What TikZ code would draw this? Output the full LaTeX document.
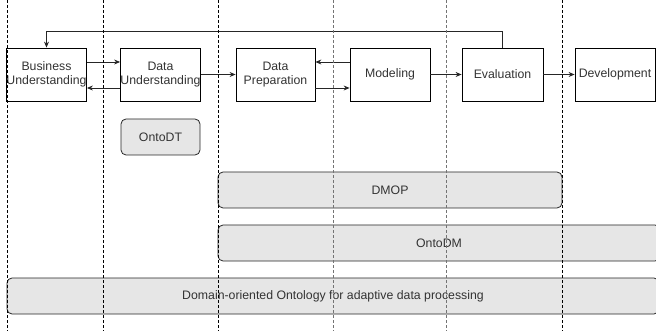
\documentclass[tikz,border=0pt]{standalone}
\usepackage{fontspec}
\setmainfont{Liberation Sans}
\usetikzlibrary{arrows.meta,calc}
\definecolor{txt}{HTML}{333333}
\definecolor{band}{HTML}{E6E6E6}
\begin{document}
\begin{tikzpicture}[x=1pt,y=-1pt,
  phase/.style={draw=black,fill=white,line width=0.8pt,align=center,
    text=txt,font=\fontsize{12.3}{14.5}\selectfont,inner sep=0pt},
  onto/.style={draw=black!85,fill=band,line width=0.8pt,rounded corners=5pt,
    text=txt,font=\fontsize{12.3}{14.5}\selectfont},
  arr/.style={draw=black!85,line width=0.8pt,-{Stealth[length=6pt,width=5pt]}},
  lane/.style={line width=0.8pt,dash pattern=on 3pt off 2pt},
]
\useasboundingbox (0,0) rectangle (656,331);
\begin{scope}
\clip (0,0) rectangle (656,331);

% CRISP-DM phases
\node[phase,minimum width=79pt,minimum height=53pt] (bu) at (46.5,74.5) {Business\\Understanding};
\node[phase,minimum width=79pt,minimum height=53pt] (du) at (160.5,74.5) {Data\\Understanding};
\node[phase,minimum width=79pt,minimum height=53pt] (dp) at (275.5,74.5) {Data\\Preparation};
\node[phase,minimum width=80pt,minimum height=53pt] (mo) at (390,74.5) {Modeling};
\node[phase,minimum width=81pt,minimum height=53pt] (ev) at (502.5,74.5) {Evaluation};
\node[phase,minimum width=80pt,minimum height=53pt] (de) at (615,74.5) {Development};

% ontologies
\node[onto,minimum width=79pt,minimum height=36pt] (dt) at (160.5,137) {OntoDT};
\node[onto,minimum width=344pt,minimum height=36pt] (dmop) at (390,190) {DMOP};
\node[onto,minimum width=442pt,minimum height=36pt] (dm) at (439,243) {OntoDM};
\node[onto,minimum width=652pt,minimum height=36pt] (dom) at (333,296) {Domain-oriented Ontology for adaptive data processing};

% phase transitions
\draw[arr] ([yshift=12.5pt]bu.east) -- ([yshift=12.5pt]du.west);
\draw[arr] ([yshift=-13.5pt]du.west) -- ([yshift=-13.5pt]bu.east);
\draw[arr] (du.east) -- (dp.west);
\draw[arr] ([yshift=12.5pt]mo.west) -- ([yshift=12.5pt]dp.east);
\draw[arr] ([yshift=-13.5pt]dp.east) -- ([yshift=-13.5pt]mo.west);
\draw[arr] (mo.east) -- (ev.west);
\draw[arr] (ev.east) -- (de.west);
\coordinate (loop) at (0,31);
\draw[arr] (ev.north) |- (loop -| bu.north) -- (bu.north);

% swimlane separators
\foreach \x in {7,103,218,562}
  \draw[lane,black] (\x,0) -- (\x,331);
\foreach \x in {333,446}
  \draw[lane,black!55] (\x,0) -- (\x,331);
\end{scope}
\end{tikzpicture}
\end{document}
